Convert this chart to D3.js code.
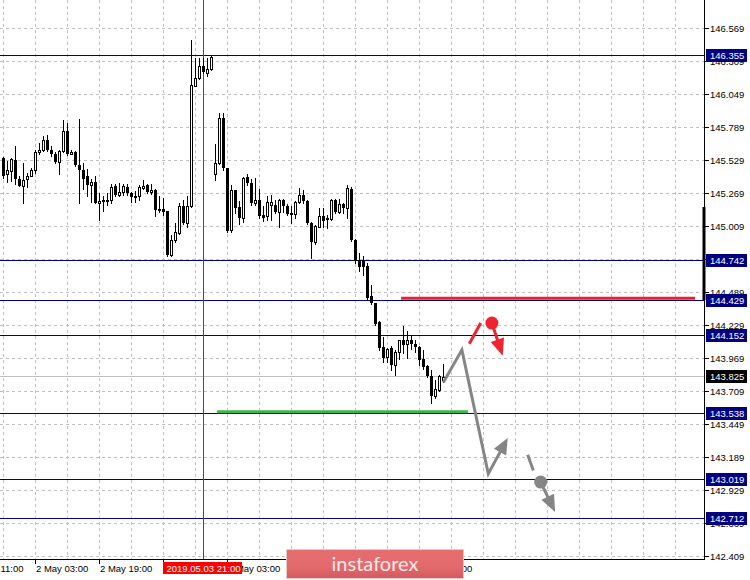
<!DOCTYPE html>
<html><head><meta charset="utf-8">
<script src="https://cdn.jsdelivr.net/npm/d3@7"></script>
<style>html,body{margin:0;padding:0;background:#fff}svg{display:block}</style>
</head><body><svg id="c" width="750" height="580"></svg>
<script>
// ---- data ----
const opens=[145.548,145.422,145.443,145.535,145.383,145.325,145.383,145.409,145.451,145.593,
145.614,145.692,145.608,145.577,145.519,145.603,145.763,145.582,145.598,145.495,
145.456,145.409,145.335,145.356,145.193,145.207,145.207,145.214,145.330,145.257,
145.277,145.319,145.272,145.241,145.246,145.314,145.335,145.277,145.298,145.146,
145.146,145.128,144.786,144.899,144.957,145.172,145.036,145.167,146.118,146.178,
146.270,146.218,146.249,145.424,145.508,145.863,145.469,144.983,145.298,145.162,
145.075,145.398,145.351,145.193,145.219,145.101,145.088,145.180,145.180,145.122,
145.219,145.167,145.104,145.106,145.201,145.254,145.206,145.035,144.883,145.009,
145.093,145.075,145.067,145.219,145.127,145.188,145.154,145.303,144.904,144.747,
144.734,144.699,144.458,144.405,144.253,144.056,143.980,144.051,143.919,144.024,
144.116,144.082,144.116,144.082,144.059,143.964,143.911,143.833,143.670,143.722,143.800];
const highs=[145.553,145.522,145.548,145.640,145.404,145.509,145.430,145.469,145.608,145.666,
145.719,145.729,145.640,145.593,145.608,145.845,145.824,145.614,145.600,145.855,
145.509,145.461,145.383,145.409,145.272,145.246,145.272,145.346,145.346,145.351,
145.340,145.346,145.277,145.288,145.335,145.372,145.340,145.340,145.304,145.246,
145.230,145.133,144.941,145.036,145.193,145.220,145.246,146.480,146.336,146.336,
146.338,146.336,146.354,145.661,145.902,145.907,145.469,145.338,145.298,145.206,
145.398,145.424,145.382,145.390,145.303,145.167,145.246,145.259,145.219,145.225,
145.225,145.188,145.167,145.206,145.311,145.298,145.219,145.048,145.022,145.154,
145.154,145.101,145.225,145.225,145.225,145.193,145.338,145.324,144.909,144.800,
144.773,144.720,144.550,144.410,144.261,144.137,144.051,144.064,144.038,144.116,
144.227,144.182,144.156,144.116,144.064,144.038,143.919,143.880,143.801,143.841,143.927];
const lows=[145.390,145.356,145.364,145.346,145.325,145.193,145.319,145.404,145.430,145.582,
145.603,145.600,145.566,145.509,145.422,145.598,145.572,145.577,145.482,145.193,
145.304,145.251,145.201,145.193,145.057,145.128,145.180,145.193,145.251,145.251,
145.259,145.259,145.204,145.199,145.214,145.304,145.272,145.267,145.094,145.120,
145.099,144.773,144.779,144.889,144.952,145.031,145.004,145.162,146.113,146.170,
146.218,146.191,146.244,145.377,145.503,145.456,144.962,144.962,145.114,145.030,
145.041,145.338,145.180,145.180,145.075,145.056,145.062,145.062,145.114,145.004,
145.127,145.101,145.035,145.075,145.193,145.198,145.027,144.760,144.873,145.004,
145.004,144.996,145.062,145.114,145.114,145.114,145.075,144.891,144.720,144.655,
144.628,144.431,144.400,144.234,144.038,143.938,143.938,143.875,143.841,143.964,
144.011,143.972,144.043,144.024,143.919,143.885,143.822,143.617,143.657,143.709,143.785];
const closes=[145.404,145.456,145.540,145.383,145.325,145.372,145.409,145.456,145.598,145.614,
145.692,145.608,145.577,145.514,145.603,145.763,145.579,145.595,145.490,145.456,
145.383,145.335,145.356,145.193,145.209,145.214,145.220,145.319,145.257,145.283,
145.325,145.272,145.241,145.251,145.319,145.330,145.277,145.298,145.136,145.128,
145.120,144.786,144.905,144.962,145.172,145.036,145.172,146.126,146.178,146.275,
146.223,146.249,146.344,145.508,145.863,145.469,144.975,145.298,145.154,145.075,
145.390,145.351,145.193,145.219,145.088,145.075,145.201,145.201,145.122,145.219,
145.167,145.109,145.114,145.201,145.254,145.206,145.035,144.883,145.014,145.088,
145.056,145.062,145.219,145.127,145.188,145.154,145.311,144.904,144.734,144.689,
144.689,144.445,144.405,144.242,144.051,143.972,144.043,143.919,144.024,144.111,
144.077,144.116,144.082,144.059,143.954,143.901,143.833,143.675,143.728,143.833,143.825];

const priceTicks=[142.409,142.669,142.929,143.189,143.449,143.709,143.969,144.229,144.489,
144.749,145.009,145.269,145.529,145.789,146.049,146.309,146.569];
const timeLabels=["1 May 11:00","2 May 03:00","2 May 19:00","3 May 11:00","6 May 03:00","6 May 19:00","7 May 11:00","8 May 03:00"];
const timeLabelBars=[-8,8,24,40,56,72,88,104];
const levelPrices=[146.355,144.742,144.429,144.152,143.538,143.019,142.712];
const bidPrice=143.825;
const markerBar=50;
const markerLabel="2019.05.03 21:00";

// annotations in (bar index, price)
const redLevel=[[99.4,144.443],[172.9,144.443]];
const greenLevel=[[53.4,143.549],[116.1,143.549]];
const grayPath=[[109.95,143.780],[114.6,144.037],[121.2,143.061],[126.05,143.342]];
const grayDash=[[131.05,143.210],[132.45,143.086]];
const grayCircle=[134.3,142.995];
const grayArrowEnd=[137.9,142.759];
const redDash=[[116.45,144.085],[119.3,144.248]];
const redCircle=[122.1,144.248];
const redArrowEnd=[124.8,143.990];

// ---- drawing ----
const svg=d3.select("#c");
const W=704.5, H=559.5;
const x=d3.scaleLinear().domain([0,110]).range([3.5,443.5]);
const y=d3.scaleLinear().domain([142.409,146.569]).range([556.5,28.5]);
const font="'Liberation Sans', Arial, sans-serif";
const cr=v=>Math.round(v-0.5)+0.5;

svg.append("rect").attr("width",750).attr("height",580).attr("fill","#fff");

const grid=svg.append("g").attr("stroke","#c0c0c0").attr("stroke-dasharray","3,3").attr("shape-rendering","crispEdges");
grid.selectAll(".h").data(priceTicks).join("line").attr("x1",0).attr("x2",W)
  .attr("y1",d=>cr(y(d))).attr("y2",d=>cr(y(d)));
grid.selectAll(".v").data(d3.range(0,176,8)).join("line").attr("y1",0).attr("y2",H)
  .attr("x1",d=>x(d)).attr("x2",d=>x(d));

// bid line
svg.append("line").attr("x1",0).attr("x2",W).attr("y1",cr(y(bidPrice))).attr("y2",cr(y(bidPrice)))
  .attr("stroke","#c0c0c0").attr("shape-rendering","crispEdges");
// navy levels
svg.append("g").selectAll("line").data(levelPrices).join("line")
  .attr("x1",0).attr("x2",W).attr("y1",d=>cr(y(d))).attr("y2",d=>cr(y(d)))
  .attr("stroke","#000080").attr("shape-rendering","crispEdges");
// red vertical marker
svg.append("line").attr("x1",x(markerBar)).attr("x2",x(markerBar)).attr("y1",0).attr("y2",H)
  .attr("stroke","#ff0000").attr("shape-rendering","crispEdges");

// candles
const bars=opens.map((o,i)=>({i,o,h:highs[i],l:lows[i],c:closes[i]}));
const cg=svg.append("g").attr("shape-rendering","crispEdges");
cg.selectAll(".w").data(bars).join("line").attr("x1",d=>x(d.i)).attr("x2",d=>x(d.i))
  .attr("y1",d=>Math.round(y(d.h))).attr("y2",d=>Math.round(y(d.l))+1).attr("stroke","#000");
cg.selectAll(".b").data(bars).join("rect")
  .attr("x",d=>d.c>=d.o? x(d.i)-1 : x(d.i)-1.5)
  .attr("width",d=>d.c>=d.o?2:3)
  .attr("y",d=>Math.round(y(Math.max(d.o,d.c)))+(d.c>=d.o?0.5:0))
  .attr("height",d=>Math.max(1,Math.round(y(Math.min(d.o,d.c)))-Math.round(y(Math.max(d.o,d.c)))))
  .attr("fill",d=>d.c>=d.o?"#fff":"#000")
  .attr("stroke",d=>d.c>=d.o?"#000":"none");

// annotations
const line=d3.line().x(d=>x(d[0])).y(d=>y(d[1]));
svg.append("path").attr("d",line(redLevel)).attr("stroke","#e8222f").attr("stroke-width",3).attr("fill","none");
svg.append("path").attr("d",line(greenLevel)).attr("stroke","#3cb64a").attr("stroke-width",3).attr("fill","none");

function arrow(pts,color,len,hw){
  const a=pts[pts.length-2], b=pts[pts.length-1];
  const ax=x(a[0]),ay=y(a[1]),bx=x(b[0]),by=y(b[1]);
  const dx=bx-ax,dy=by-ay,L=Math.hypot(dx,dy),ux=dx/L,uy=dy/L;
  const bxs=bx-ux*(len-2), bys=by-uy*(len-2);
  const px=pts.map(p=>[x(p[0]),y(p[1])]); px[px.length-1]=[bxs,bys];
  svg.append("path").attr("d",d3.line()(px)).attr("stroke",color).attr("stroke-width",3)
    .attr("fill","none").attr("stroke-linejoin","miter");
  const base=[bx-ux*len,by-uy*len];
  svg.append("path").attr("d",d3.line()([[bx,by],[base[0]-uy*hw,base[1]+ux*hw],[base[0]+uy*hw,base[1]-ux*hw]])+"Z")
    .attr("fill",color);
}
arrow(grayPath,"#858585",16,7);
svg.append("path").attr("d",line(grayDash)).attr("stroke","#858585").attr("stroke-width",3);
svg.append("circle").attr("cx",x(grayCircle[0])).attr("cy",y(grayCircle[1])).attr("r",6.5).attr("fill","#858585");
arrow([grayCircle,grayArrowEnd],"#858585",17,7);
svg.append("path").attr("d",line(redDash)).attr("stroke","#ee2530").attr("stroke-width",3);
svg.append("circle").attr("cx",x(redCircle[0])).attr("cy",y(redCircle[1])).attr("r",6.5).attr("fill","#ee2530");
arrow([redCircle,redArrowEnd],"#ee2530",17,7);

// axes
const ax=svg.append("g").attr("shape-rendering","crispEdges");
ax.append("line").attr("x1",W).attr("x2",W).attr("y1",0).attr("y2",H).attr("stroke","#000");
ax.append("line").attr("x1",0).attr("x2",W).attr("y1",H).attr("y2",H).attr("stroke","#000");
svg.append("rect").attr("x",702.5).attr("y",207).attr("width",3).attr("height",93).attr("fill","#000");
ax.selectAll(".pt").data(priceTicks).join("line").attr("x1",W).attr("x2",W+4)
  .attr("y1",d=>cr(y(d))).attr("y2",d=>cr(y(d))).attr("stroke","#000");
svg.append("g").selectAll("text").data(priceTicks).join("text")
  .attr("x",710).attr("y",d=>y(d)+3.5).attr("font-family",font).attr("font-size","9.5px")
  .attr("fill","#000").text(d=>d.toFixed(3));
ax.selectAll(".tt").data(timeLabelBars).join("line").attr("x1",d=>x(d)).attr("x2",d=>x(d))
  .attr("y1",H).attr("y2",H+4).attr("stroke","#000");
svg.append("g").selectAll("text").data(timeLabels).join("text")
  .attr("x",(d,i)=>x(timeLabelBars[i])+0.5).attr("y",572).attr("font-family",font).attr("font-size","9.5px")
  .attr("fill","#000").text(d=>d);

// level label boxes
const lb=svg.append("g").selectAll("g").data(levelPrices.map(p=>({p,bg:"#000080"})).concat([{p:bidPrice,bg:"#000"}])).join("g");
lb.append("rect").attr("x",706).attr("y",d=>cr(y(d.p))-6.5).attr("width",41).attr("height",13).attr("fill",d=>d.bg);
lb.append("text").attr("x",710).attr("y",d=>cr(y(d.p))+3.5).attr("font-family",font).attr("font-size","9.5px")
  .attr("fill","#fff").text(d=>d.p.toFixed(3));

// marker label
svg.append("rect").attr("x",163).attr("y",562).attr("width",79).attr("height",12).attr("fill","#ff0000");
svg.append("text").attr("x",x(markerBar)).attr("y",571.5).attr("text-anchor","middle").attr("font-family",font)
  .attr("font-size","9.5px").attr("fill","#fff").text(markerLabel);

// logo
const defs=svg.append("defs");
const gr=defs.append("linearGradient").attr("id","lg").attr("x1",0).attr("y1",0).attr("x2",0).attr("y2",1);
gr.append("stop").attr("offset","0").attr("stop-color","#e56d70");
gr.append("stop").attr("offset","0.6").attr("stop-color","#e36a6d");
gr.append("stop").attr("offset","1").attr("stop-color","#d25a5e");
svg.append("rect").attr("x",286.5).attr("y",549.5).attr("width",177).attr("height",29)
  .attr("fill","url(#lg)").attr("stroke","#e6c9c9");
svg.append("text").attr("x",375).attr("y",570.5).attr("text-anchor","middle").attr("font-family","Lato, 'Open Sans', sans-serif")
  .attr("font-size","20px").attr("fill","#fbeaea").text("instaforex");
</script></body></html>
